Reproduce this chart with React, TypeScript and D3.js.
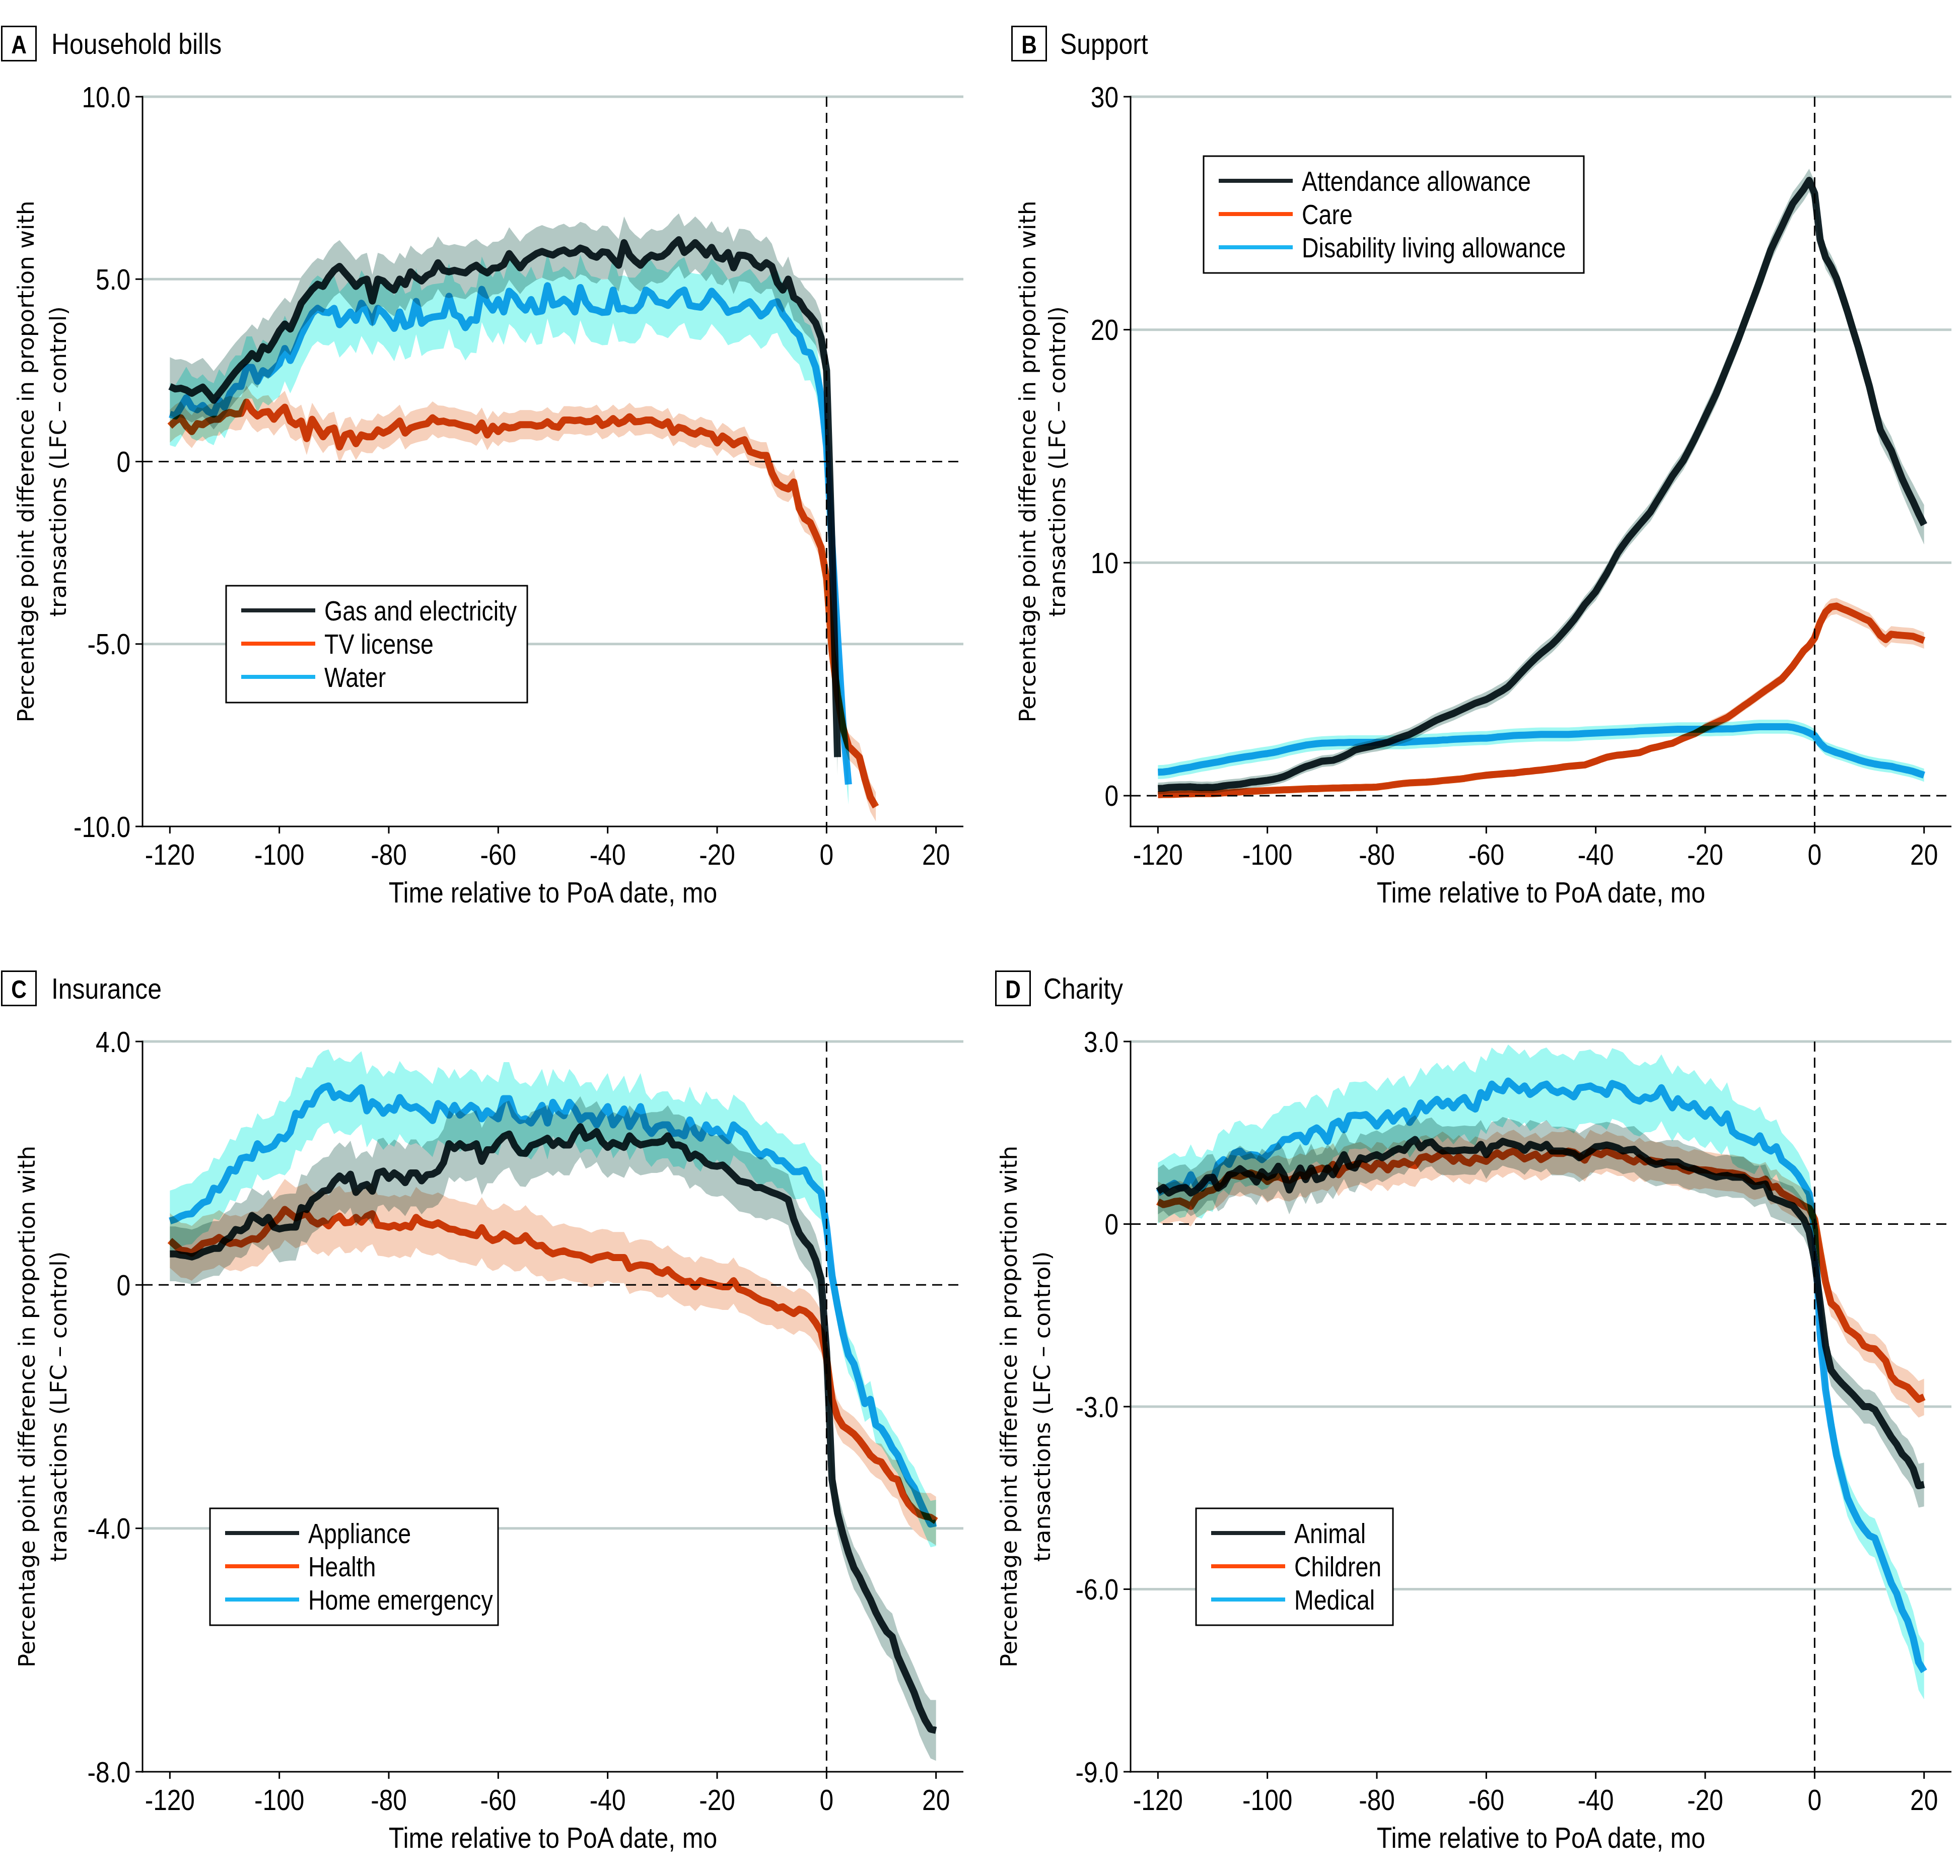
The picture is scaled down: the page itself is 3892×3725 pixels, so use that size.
import React from "react";
import * as d3 from "d3";

// ---------------- DATA ----------------
const monthStart = -120;
const xTicks = [-120, -100, -80, -60, -40, -20, 0, 20];

// Panel A: Household bills
const householdYTicks = [10, 5, 0, -5, -10];
const householdYLabels = ["10.0", "5.0", "0", "-5.0", "-10.0"];
const householdGrid = [10, 5, -5];
const gasElectricity = [
  2.06, 1.99, 2.01, 1.96, 1.87, 1.96, 2.04, 1.87, 1.68, 1.87,
  2.06, 2.27, 2.46, 2.63, 2.77, 2.96, 2.82, 3.15, 3.06, 3.3,
  3.58, 3.77, 3.63, 3.96, 4.34, 4.53, 4.72, 4.86, 4.8, 5.05,
  5.24, 5.35, 5.17, 5.0, 4.8, 4.95, 5.0, 4.4, 5.0, 4.95,
  4.8, 4.7, 5.0, 4.85, 5.2, 5.05, 4.95, 5.1, 5.17, 5.45,
  5.24, 5.2, 5.24, 5.2, 5.17, 5.3, 5.38, 5.25, 5.17, 5.3,
  5.31, 5.4, 5.7, 5.5, 5.31, 5.5, 5.6, 5.7, 5.76, 5.7,
  5.66, 5.75, 5.8, 5.7, 5.73, 5.85, 5.8, 5.65, 5.6, 5.75,
  5.73, 5.55, 5.38, 6.0, 5.66, 5.5, 5.38, 5.55, 5.66, 5.6,
  5.63, 5.75, 5.94, 6.08, 5.73, 5.85, 6.0, 5.85, 5.66, 5.87,
  5.6, 5.55, 5.73, 5.31, 5.66, 5.65, 5.6, 5.4, 5.31, 5.45,
  5.35, 4.9, 4.7, 5.0, 4.5, 4.4, 4.15, 4.0, 3.8, 3.4,
  2.5, -2.4, -8.1,
];
const gasElectricityCi = [
  0.8, 0.8, 0.8, 0.8, 0.8, 0.8, 0.8, 0.8, 0.8, 0.8,
  0.8, 0.8, 0.8, 0.8, 0.8, 0.8, 0.8, 0.8, 0.8, 0.8,
  0.72, 0.72, 0.72, 0.72, 0.72, 0.72, 0.72, 0.72, 0.72, 0.72,
  0.72, 0.72, 0.72, 0.72, 0.72, 0.72, 0.72, 0.72, 0.72, 0.72,
  0.72, 0.72, 0.72, 0.72, 0.72, 0.72, 0.72, 0.72, 0.72, 0.72,
  0.72, 0.72, 0.72, 0.72, 0.72, 0.72, 0.72, 0.72, 0.72, 0.72,
  0.72, 0.72, 0.72, 0.72, 0.72, 0.72, 0.72, 0.72, 0.72, 0.72,
  0.72, 0.72, 0.72, 0.72, 0.72, 0.72, 0.72, 0.72, 0.72, 0.72,
  0.72, 0.72, 0.72, 0.72, 0.72, 0.72, 0.72, 0.72, 0.72, 0.72,
  0.72, 0.72, 0.72, 0.72, 0.72, 0.72, 0.72, 0.72, 0.72, 0.72,
  0.72, 0.72, 0.72, 0.72, 0.72, 0.72, 0.72, 0.72, 0.72, 0.72,
  0.62, 0.62, 0.62, 0.62, 0.62, 0.62, 0.62, 0.62, 0.62, 0.62,
  0.5, 0.5, 0.5,
];
const tvLicense = [
  0.97, 1.11, 1.2, 0.97, 0.82, 1.04, 1.01, 1.11, 1.16, 1.16,
  1.3, 1.35, 1.3, 1.32, 1.63, 1.39, 1.25, 1.35, 1.37, 1.16,
  1.35, 1.49, 1.11, 1.01, 1.11, 0.63, 1.16, 0.92, 0.68, 0.87,
  0.92, 0.4, 0.73, 0.78, 0.49, 0.73, 0.68, 0.68, 0.87, 0.78,
  0.85, 0.97, 1.11, 0.78, 0.92, 0.97, 1.01, 1.04, 1.2, 1.09,
  1.11, 1.06, 1.06, 1.01, 0.97, 0.94, 0.85, 1.06, 0.73, 0.97,
  0.82, 0.97, 0.92, 0.94, 1.01, 1.01, 1.01, 0.97, 0.99, 1.09,
  0.97, 0.94, 1.14, 1.14, 1.12, 1.14, 1.09, 1.1, 1.18, 0.99,
  1.05, 1.18, 1.04, 1.1, 1.23, 1.09, 1.1, 1.14, 1.14, 1.05,
  0.99, 1.09, 0.8, 0.94, 0.9, 0.8, 0.75, 0.85, 0.78, 0.75,
  0.51, 0.7, 0.6, 0.46, 0.55, 0.6, 0.27, 0.22, 0.17, 0.17,
  -0.31, -0.6, -0.7, -0.75, -0.56, -1.28, -1.57, -1.67, -2.0, -2.35,
  -3.2, -5.2, -6.4, -7.3, -7.8, -7.95, -8.1, -8.7, -9.2, -9.46,
];
const tvLicenseCi = [
  0.45, 0.45, 0.45, 0.45, 0.45, 0.45, 0.45, 0.45, 0.45, 0.45,
  0.45, 0.45, 0.45, 0.45, 0.45, 0.45, 0.45, 0.45, 0.45, 0.45,
  0.45, 0.45, 0.45, 0.45, 0.45, 0.45, 0.45, 0.45, 0.45, 0.45,
  0.45, 0.45, 0.45, 0.45, 0.45, 0.45, 0.45, 0.45, 0.45, 0.45,
  0.45, 0.45, 0.45, 0.45, 0.45, 0.45, 0.45, 0.45, 0.45, 0.45,
  0.42, 0.42, 0.42, 0.42, 0.42, 0.42, 0.42, 0.42, 0.42, 0.42,
  0.4, 0.4, 0.4, 0.4, 0.4, 0.4, 0.4, 0.4, 0.4, 0.4,
  0.38, 0.38, 0.38, 0.38, 0.38, 0.38, 0.38, 0.38, 0.38, 0.38,
  0.38, 0.38, 0.38, 0.38, 0.38, 0.38, 0.38, 0.38, 0.38, 0.38,
  0.38, 0.38, 0.38, 0.38, 0.38, 0.38, 0.38, 0.38, 0.38, 0.38,
  0.36, 0.36, 0.36, 0.36, 0.36, 0.36, 0.36, 0.36, 0.36, 0.36,
  0.36, 0.36, 0.36, 0.36, 0.36, 0.36, 0.36, 0.36, 0.36, 0.36,
  0.36, 0.36, 0.36, 0.36, 0.36, 0.36, 0.38, 0.4, 0.4, 0.4,
];
const water = [
  1.3, 1.25, 1.49, 1.75, 1.49, 1.42, 1.54, 1.37, 1.3, 1.68,
  1.49, 1.87, 2.06, 2.06, 2.58, 2.58, 2.2, 2.49, 2.39, 2.53,
  2.68, 3.1, 2.77, 3.1, 3.48, 3.77, 4.06, 4.2, 4.1, 4.08,
  4.2, 3.75, 3.91, 4.1, 3.87, 4.34, 4.1, 3.82, 4.2, 4.08,
  3.89, 3.65, 4.1, 3.7, 3.77, 4.39, 3.79, 3.91, 3.96, 3.98,
  4.0, 4.53, 4.03, 3.96, 3.67, 3.89, 3.87, 4.72, 4.36, 4.15,
  4.44, 4.1, 4.67, 4.53, 4.29, 4.15, 4.44, 4.1, 4.13, 4.82,
  4.29, 4.33, 4.45, 4.33, 4.1, 4.77, 4.37, 4.18, 4.15, 4.09,
  4.1, 4.7, 4.18, 4.2, 4.14, 4.14, 4.3, 4.7, 4.6, 4.38,
  4.35, 4.28, 4.45, 4.62, 4.7, 4.28, 4.25, 4.23, 4.4, 4.67,
  4.5, 4.33, 4.09, 4.15, 4.18, 4.3, 4.38, 4.2, 3.99, 4.1,
  4.33, 4.38, 4.04, 3.85, 3.6, 3.46, 3.02, 2.98, 2.59, 1.8,
  0.4, -2.3, -4.77, -7.2, -8.85,
];
const waterCi = [
  0.85, 0.85, 0.85, 0.85, 0.85, 0.85, 0.85, 0.85, 0.85, 0.85,
  0.85, 0.85, 0.85, 0.85, 0.85, 0.85, 0.85, 0.85, 0.85, 0.85,
  0.9, 0.9, 0.9, 0.9, 0.9, 0.9, 0.9, 0.9, 0.9, 0.9,
  0.9, 0.9, 0.9, 0.9, 0.9, 0.9, 0.9, 0.9, 0.9, 0.9,
  0.9, 0.9, 0.9, 0.9, 0.9, 0.9, 0.9, 0.9, 0.9, 0.9,
  0.9, 0.9, 0.9, 0.9, 0.9, 0.9, 0.9, 0.9, 0.9, 0.9,
  0.9, 0.9, 0.9, 0.9, 0.9, 0.9, 0.9, 0.9, 0.9, 0.9,
  0.9, 0.9, 0.9, 0.9, 0.9, 0.9, 0.9, 0.9, 0.9, 0.9,
  0.9, 0.9, 0.9, 0.9, 0.9, 0.9, 0.9, 0.9, 0.9, 0.9,
  0.9, 0.9, 0.9, 0.9, 0.9, 0.9, 0.9, 0.9, 0.9, 0.9,
  0.9, 0.9, 0.9, 0.9, 0.9, 0.9, 0.9, 0.9, 0.9, 0.9,
  0.85, 0.85, 0.85, 0.85, 0.8, 0.8, 0.8, 0.75, 0.7, 0.65,
  0.55, 0.55, 0.55, 0.55, 0.55,
];

// Panel B: Support
const supportYTicks = [30, 20, 10, 0];
const supportYLabels = ["30", "20", "10", "0"];
const supportGrid = [30, 20, 10];
const attendanceAllowance = [
  0.31, 0.32, 0.35, 0.36, 0.37, 0.37, 0.38, 0.36, 0.35, 0.36,
  0.35, 0.38, 0.42, 0.45, 0.47, 0.49, 0.53, 0.58, 0.6, 0.63,
  0.66, 0.7, 0.75, 0.82, 0.92, 1.04, 1.15, 1.25, 1.32, 1.4,
  1.48, 1.5, 1.52, 1.6, 1.7, 1.82, 1.96, 2.02, 2.07, 2.12,
  2.18, 2.23, 2.29, 2.38, 2.47, 2.55, 2.63, 2.75, 2.87, 3.0,
  3.13, 3.25, 3.35, 3.44, 3.53, 3.64, 3.75, 3.86, 3.97, 4.05,
  4.13, 4.25, 4.39, 4.52, 4.68, 4.92, 5.18, 5.43, 5.67, 5.9,
  6.11, 6.3, 6.49, 6.73, 6.99, 7.26, 7.54, 7.87, 8.21, 8.48,
  8.76, 9.15, 9.53, 9.97, 10.41, 10.75, 11.07, 11.35, 11.63, 11.9,
  12.18, 12.57, 12.95, 13.33, 13.72, 14.05, 14.38, 14.82, 15.27, 15.76,
  16.26, 16.75, 17.25, 17.82, 18.4, 18.98, 19.57, 20.2, 20.83, 21.46,
  22.1, 22.77, 23.43, 23.93, 24.42, 24.92, 25.41, 25.72, 26.03, 26.41,
  25.85, 23.87, 23.1, 22.7, 22.2, 21.5, 20.78, 20.0, 19.24, 18.4,
  17.58, 16.6, 15.7, 15.25, 14.82, 14.2, 13.6, 13.1, 12.62, 12.1,
  11.63,
];
const attendanceAllowanceCi = [
  0.25, 0.25, 0.25, 0.25, 0.25, 0.25, 0.25, 0.25, 0.25, 0.25,
  0.25, 0.25, 0.25, 0.25, 0.25, 0.25, 0.25, 0.25, 0.25, 0.25,
  0.25, 0.25, 0.25, 0.25, 0.25, 0.25, 0.25, 0.25, 0.25, 0.25,
  0.25, 0.25, 0.25, 0.25, 0.25, 0.25, 0.25, 0.25, 0.25, 0.25,
  0.28, 0.28, 0.28, 0.28, 0.28, 0.28, 0.28, 0.28, 0.28, 0.28,
  0.3, 0.3, 0.3, 0.3, 0.3, 0.3, 0.3, 0.3, 0.3, 0.3,
  0.33, 0.33, 0.33, 0.33, 0.33, 0.33, 0.33, 0.33, 0.33, 0.33,
  0.35, 0.35, 0.35, 0.35, 0.35, 0.35, 0.35, 0.35, 0.35, 0.35,
  0.38, 0.38, 0.38, 0.38, 0.38, 0.38, 0.38, 0.38, 0.38, 0.38,
  0.4, 0.4, 0.4, 0.4, 0.4, 0.4, 0.4, 0.4, 0.4, 0.4,
  0.45, 0.45, 0.45, 0.45, 0.45, 0.45, 0.45, 0.45, 0.45, 0.45,
  0.5, 0.5, 0.5, 0.5, 0.5, 0.5, 0.5, 0.5, 0.5, 0.5,
  0.5, 0.5, 0.5, 0.5, 0.5, 0.5, 0.5, 0.5, 0.5, 0.55,
  0.55, 0.55, 0.6, 0.6, 0.6, 0.6, 0.65, 0.7, 0.75, 0.8,
  0.85,
];
const care = [
  0.04, 0.05, 0.05, 0.06, 0.07, 0.08, 0.08, 0.09, 0.09, 0.09,
  0.09, 0.1, 0.12, 0.13, 0.15, 0.16, 0.18, 0.19, 0.2, 0.21,
  0.22, 0.23, 0.24, 0.25, 0.26, 0.27, 0.28, 0.29, 0.3, 0.3,
  0.31, 0.32, 0.33, 0.33, 0.34, 0.34, 0.35, 0.35, 0.36, 0.36,
  0.37, 0.4, 0.43, 0.47, 0.5, 0.53, 0.55, 0.56, 0.57, 0.58,
  0.6, 0.62, 0.65, 0.67, 0.69, 0.71, 0.74, 0.78, 0.82, 0.85,
  0.88, 0.9, 0.92, 0.94, 0.96, 0.97, 1.0, 1.03, 1.05, 1.08,
  1.1, 1.13, 1.16, 1.19, 1.23, 1.26, 1.28, 1.3, 1.32, 1.4,
  1.48, 1.57, 1.65, 1.7, 1.74, 1.76, 1.79, 1.82, 1.85, 1.94,
  2.03, 2.08, 2.14, 2.2, 2.25, 2.36, 2.47, 2.56, 2.65, 2.78,
  2.91, 3.02, 3.13, 3.24, 3.35, 3.51, 3.68, 3.85, 4.01, 4.18,
  4.35, 4.52, 4.68, 4.85, 5.01, 5.28, 5.56, 5.89, 6.22, 6.44,
  6.77, 7.43, 7.88, 8.1, 8.14, 8.03, 7.94, 7.83, 7.72, 7.6,
  7.5, 7.21, 6.88, 6.7, 6.93, 6.9, 6.88, 6.86, 6.84, 6.75,
  6.66,
];
const careCi = [
  0.12, 0.12, 0.12, 0.12, 0.12, 0.12, 0.12, 0.12, 0.12, 0.12,
  0.12, 0.12, 0.12, 0.12, 0.12, 0.12, 0.12, 0.12, 0.12, 0.12,
  0.12, 0.12, 0.12, 0.12, 0.12, 0.12, 0.12, 0.12, 0.12, 0.12,
  0.12, 0.12, 0.12, 0.12, 0.12, 0.12, 0.12, 0.12, 0.12, 0.12,
  0.12, 0.12, 0.12, 0.12, 0.12, 0.12, 0.12, 0.12, 0.12, 0.12,
  0.12, 0.12, 0.12, 0.12, 0.12, 0.12, 0.12, 0.12, 0.12, 0.12,
  0.15, 0.15, 0.15, 0.15, 0.15, 0.15, 0.15, 0.15, 0.15, 0.15,
  0.15, 0.15, 0.15, 0.15, 0.15, 0.15, 0.15, 0.15, 0.15, 0.15,
  0.15, 0.15, 0.15, 0.15, 0.15, 0.15, 0.15, 0.15, 0.15, 0.15,
  0.15, 0.15, 0.15, 0.15, 0.15, 0.15, 0.15, 0.15, 0.15, 0.15,
  0.22, 0.22, 0.22, 0.22, 0.22, 0.22, 0.22, 0.22, 0.22, 0.22,
  0.22, 0.22, 0.22, 0.22, 0.22, 0.22, 0.22, 0.22, 0.22, 0.22,
  0.35, 0.35, 0.35, 0.35, 0.35, 0.35, 0.35, 0.35, 0.35, 0.35,
  0.35, 0.35, 0.35, 0.35, 0.35, 0.35, 0.35, 0.35, 0.35, 0.35,
  0.35,
];
const disabilityLiving = [
  1.01, 1.02, 1.05, 1.1, 1.15, 1.19, 1.23, 1.28, 1.33, 1.37,
  1.41, 1.45, 1.5, 1.55, 1.59, 1.63, 1.67, 1.7, 1.74, 1.78,
  1.81, 1.85, 1.9, 1.96, 2.02, 2.07, 2.12, 2.17, 2.2, 2.23,
  2.25, 2.26, 2.27, 2.28, 2.28, 2.29, 2.29, 2.29, 2.29, 2.29,
  2.29, 2.29, 2.29, 2.29, 2.29, 2.29, 2.31, 2.32, 2.34, 2.35,
  2.36, 2.37, 2.39, 2.4, 2.42, 2.43, 2.44, 2.45, 2.46, 2.47,
  2.47, 2.49, 2.52, 2.54, 2.56, 2.58, 2.59, 2.6, 2.61, 2.62,
  2.63, 2.63, 2.63, 2.63, 2.63, 2.63, 2.64, 2.65, 2.67, 2.68,
  2.69, 2.7, 2.71, 2.72, 2.73, 2.74, 2.75, 2.76, 2.78, 2.79,
  2.8, 2.81, 2.82, 2.83, 2.84, 2.85, 2.85, 2.85, 2.85, 2.85,
  2.85, 2.85, 2.86, 2.86, 2.87, 2.87, 2.89, 2.91, 2.93, 2.95,
  2.96, 2.96, 2.96, 2.96, 2.96, 2.96, 2.93, 2.87, 2.8, 2.7,
  2.58, 2.25, 2.03, 1.94, 1.85, 1.78, 1.7, 1.62, 1.54, 1.47,
  1.41, 1.36, 1.32, 1.29, 1.26, 1.2, 1.15, 1.1, 1.04, 0.96,
  0.88,
];
const disabilityLivingCi = [
  0.3, 0.3, 0.3, 0.3, 0.3, 0.3, 0.3, 0.3, 0.3, 0.3,
  0.3, 0.3, 0.3, 0.3, 0.3, 0.3, 0.3, 0.3, 0.3, 0.3,
  0.3, 0.3, 0.3, 0.3, 0.3, 0.3, 0.3, 0.3, 0.3, 0.3,
  0.3, 0.3, 0.3, 0.3, 0.3, 0.3, 0.3, 0.3, 0.3, 0.3,
  0.3, 0.3, 0.3, 0.3, 0.3, 0.3, 0.3, 0.3, 0.3, 0.3,
  0.3, 0.3, 0.3, 0.3, 0.3, 0.3, 0.3, 0.3, 0.3, 0.3,
  0.3, 0.3, 0.3, 0.3, 0.3, 0.3, 0.3, 0.3, 0.3, 0.3,
  0.3, 0.3, 0.3, 0.3, 0.3, 0.3, 0.3, 0.3, 0.3, 0.3,
  0.3, 0.3, 0.3, 0.3, 0.3, 0.3, 0.3, 0.3, 0.3, 0.3,
  0.3, 0.3, 0.3, 0.3, 0.3, 0.3, 0.3, 0.3, 0.3, 0.3,
  0.3, 0.3, 0.3, 0.3, 0.3, 0.3, 0.3, 0.3, 0.3, 0.3,
  0.3, 0.3, 0.3, 0.3, 0.3, 0.3, 0.3, 0.3, 0.3, 0.3,
  0.28, 0.28, 0.28, 0.28, 0.28, 0.28, 0.28, 0.28, 0.28, 0.28,
  0.28, 0.28, 0.28, 0.28, 0.28, 0.28, 0.28, 0.28, 0.28, 0.28,
  0.28,
];

// Panel C: Insurance
const insuranceYTicks = [4, 0, -4, -8];
const insuranceYLabels = ["4.0", "0", "-4.0", "-8.0"];
const insuranceGrid = [4, -4];
const appliance = [
  0.51, 0.51, 0.49, 0.48, 0.46, 0.49, 0.54, 0.57, 0.6, 0.6,
  0.73, 0.78, 0.91, 0.89, 0.95, 1.14, 1.08, 1.02, 1.11, 0.95,
  0.92, 0.94, 0.95, 0.95, 1.27, 1.24, 1.4, 1.46, 1.54, 1.56,
  1.7, 1.79, 1.71, 1.82, 1.52, 1.62, 1.65, 1.54, 1.84, 1.87,
  1.75, 1.84, 1.78, 1.68, 1.84, 1.84, 1.71, 1.81, 1.82, 1.87,
  2.01, 2.32, 2.24, 2.32, 2.25, 2.27, 2.32, 2.03, 2.22, 2.22,
  2.35, 2.44, 2.48, 2.29, 2.17, 2.16, 2.29, 2.32, 2.36, 2.41,
  2.29, 2.37, 2.3, 2.3, 2.48, 2.6, 2.41, 2.45, 2.52, 2.35,
  2.26, 2.34, 2.3, 2.26, 2.45, 2.35, 2.3, 2.32, 2.34, 2.34,
  2.36, 2.45, 2.3, 2.3, 2.26, 2.08, 2.15, 2.1, 2.0, 1.96,
  1.95, 1.97, 1.89, 1.8, 1.71, 1.69, 1.67, 1.6, 1.6, 1.56,
  1.52, 1.49, 1.45, 1.4, 1.08, 0.85, 0.72, 0.62, 0.41, 0.1,
  -1.1, -3.2, -3.75, -4.1, -4.4, -4.65, -4.8, -5.0, -5.17, -5.38,
  -5.55, -5.7, -5.78, -6.1, -6.3, -6.5, -6.7, -6.95, -7.15, -7.3,
  -7.32,
];
const applianceCi = [
  0.45, 0.45, 0.45, 0.45, 0.45, 0.45, 0.45, 0.45, 0.45, 0.45,
  0.45, 0.45, 0.45, 0.45, 0.45, 0.45, 0.45, 0.45, 0.45, 0.45,
  0.55, 0.55, 0.55, 0.55, 0.55, 0.55, 0.55, 0.55, 0.55, 0.55,
  0.55, 0.55, 0.55, 0.55, 0.55, 0.55, 0.55, 0.55, 0.55, 0.55,
  0.55, 0.55, 0.55, 0.55, 0.55, 0.55, 0.55, 0.55, 0.55, 0.55,
  0.55, 0.55, 0.55, 0.55, 0.55, 0.55, 0.55, 0.55, 0.55, 0.55,
  0.55, 0.55, 0.55, 0.55, 0.55, 0.55, 0.55, 0.55, 0.55, 0.55,
  0.5, 0.5, 0.5, 0.5, 0.5, 0.5, 0.5, 0.5, 0.5, 0.5,
  0.5, 0.5, 0.5, 0.5, 0.5, 0.5, 0.5, 0.5, 0.5, 0.5,
  0.5, 0.5, 0.5, 0.5, 0.5, 0.5, 0.5, 0.5, 0.5, 0.5,
  0.5, 0.5, 0.5, 0.5, 0.5, 0.5, 0.5, 0.5, 0.5, 0.5,
  0.42, 0.42, 0.42, 0.42, 0.42, 0.42, 0.42, 0.42, 0.42, 0.42,
  0.35, 0.35, 0.35, 0.35, 0.35, 0.35, 0.35, 0.35, 0.35, 0.35,
  0.38, 0.38, 0.38, 0.4, 0.4, 0.42, 0.42, 0.45, 0.45, 0.48,
  0.5,
];
const health = [
  0.73, 0.65, 0.57, 0.56, 0.52, 0.6, 0.68, 0.7, 0.72, 0.78,
  0.72, 0.68, 0.7, 0.67, 0.72, 0.76, 0.75, 0.83, 0.95, 1.02,
  1.11, 1.24, 1.17, 1.1, 1.14, 1.17, 1.05, 1.0, 1.05, 0.97,
  1.08, 1.13, 1.02, 1.03, 1.11, 1.03, 1.13, 1.17, 0.98, 0.97,
  0.95, 0.98, 0.94, 0.98, 0.95, 1.11, 1.03, 1.0, 0.98, 1.02,
  0.97, 0.92, 0.91, 0.87, 0.86, 0.83, 0.81, 0.94, 0.79, 0.73,
  0.76, 0.84, 0.79, 0.72, 0.73, 0.81, 0.7, 0.64, 0.65, 0.56,
  0.51, 0.54, 0.56, 0.52, 0.5, 0.49, 0.45, 0.41, 0.45, 0.47,
  0.49, 0.45, 0.45, 0.45, 0.27, 0.31, 0.33, 0.32, 0.3, 0.22,
  0.19, 0.25, 0.16, 0.1, 0.05, 0.06, -0.03, 0.07, 0.04, 0.02,
  -0.01, -0.03, -0.03, 0.07, -0.07, -0.1, -0.14, -0.2, -0.25, -0.28,
  -0.31, -0.38, -0.36, -0.42, -0.47, -0.4, -0.43, -0.5, -0.62, -0.77,
  -1.2, -1.88, -2.17, -2.32, -2.38, -2.45, -2.55, -2.67, -2.8, -2.88,
  -2.91, -3.05, -3.17, -3.2, -3.45, -3.6, -3.7, -3.77, -3.8, -3.82,
  -3.88,
];
const healthCi = [
  0.45, 0.45, 0.45, 0.45, 0.45, 0.45, 0.45, 0.45, 0.45, 0.45,
  0.45, 0.45, 0.45, 0.45, 0.45, 0.45, 0.45, 0.45, 0.45, 0.45,
  0.5, 0.5, 0.5, 0.5, 0.5, 0.5, 0.5, 0.5, 0.5, 0.5,
  0.5, 0.5, 0.5, 0.5, 0.5, 0.5, 0.5, 0.5, 0.5, 0.5,
  0.5, 0.5, 0.5, 0.5, 0.5, 0.5, 0.5, 0.5, 0.5, 0.5,
  0.5, 0.5, 0.5, 0.5, 0.5, 0.5, 0.5, 0.5, 0.5, 0.5,
  0.5, 0.5, 0.5, 0.5, 0.5, 0.5, 0.5, 0.5, 0.5, 0.5,
  0.45, 0.45, 0.45, 0.45, 0.45, 0.45, 0.45, 0.45, 0.45, 0.45,
  0.42, 0.42, 0.42, 0.42, 0.42, 0.42, 0.42, 0.42, 0.42, 0.42,
  0.4, 0.4, 0.4, 0.4, 0.4, 0.4, 0.4, 0.4, 0.4, 0.4,
  0.38, 0.38, 0.38, 0.38, 0.38, 0.38, 0.38, 0.38, 0.38, 0.38,
  0.35, 0.35, 0.35, 0.35, 0.35, 0.35, 0.35, 0.35, 0.35, 0.35,
  0.28, 0.28, 0.28, 0.28, 0.28, 0.28, 0.28, 0.28, 0.28, 0.28,
  0.3, 0.3, 0.3, 0.32, 0.32, 0.34, 0.34, 0.36, 0.38, 0.4,
  0.4,
];
const homeEmergency = [
  1.05, 1.08, 1.13, 1.16, 1.17, 1.27, 1.35, 1.38, 1.59, 1.56,
  1.71, 1.9, 1.87, 2.08, 2.1, 2.08, 2.32, 2.22, 2.24, 2.29,
  2.43, 2.4, 2.51, 2.82, 2.79, 2.98, 2.97, 3.16, 3.24, 3.27,
  3.08, 3.14, 3.08, 3.06, 3.16, 3.24, 2.86, 3.01, 2.95, 2.82,
  2.92, 2.87, 3.08, 2.95, 2.9, 2.93, 2.87, 2.79, 2.7, 2.98,
  2.92, 2.79, 2.95, 2.79, 2.86, 2.95, 2.89, 2.73, 2.86, 2.79,
  2.73, 3.06, 3.06, 2.79, 2.7, 2.73, 2.66, 2.79, 2.95, 2.66,
  3.0, 2.85, 2.78, 3.0, 2.89, 2.71, 2.78, 2.78, 2.63, 2.8,
  2.93, 2.63, 2.75, 2.89, 2.6, 2.75, 2.93, 2.6, 2.49, 2.6,
  2.63, 2.63, 2.49, 2.5, 2.45, 2.71, 2.5, 2.41, 2.63, 2.5,
  2.56, 2.45, 2.37, 2.63, 2.55, 2.49, 2.34, 2.2, 2.12, 2.19,
  2.15, 2.04, 2.04, 1.95, 1.86, 1.86, 1.89, 1.7, 1.6, 1.52,
  0.95, 0.15, -0.35, -0.8, -1.15, -1.3, -1.6, -1.95, -1.88, -2.3,
  -2.36, -2.5, -2.68, -2.8, -3.0, -3.2, -3.33, -3.55, -3.75, -3.93,
  -3.91,
];
const homeEmergencyCi = [
  0.5, 0.5, 0.5, 0.5, 0.5, 0.5, 0.5, 0.5, 0.5, 0.5,
  0.5, 0.5, 0.5, 0.5, 0.5, 0.5, 0.5, 0.5, 0.5, 0.5,
  0.6, 0.6, 0.6, 0.6, 0.6, 0.6, 0.6, 0.6, 0.6, 0.6,
  0.6, 0.6, 0.6, 0.6, 0.6, 0.6, 0.6, 0.6, 0.6, 0.6,
  0.6, 0.6, 0.6, 0.6, 0.6, 0.6, 0.6, 0.6, 0.6, 0.6,
  0.6, 0.6, 0.6, 0.6, 0.6, 0.6, 0.6, 0.6, 0.6, 0.6,
  0.6, 0.6, 0.6, 0.6, 0.6, 0.6, 0.6, 0.6, 0.6, 0.6,
  0.55, 0.55, 0.55, 0.55, 0.55, 0.55, 0.55, 0.55, 0.55, 0.55,
  0.55, 0.55, 0.55, 0.55, 0.55, 0.55, 0.55, 0.55, 0.55, 0.55,
  0.55, 0.55, 0.55, 0.55, 0.55, 0.55, 0.55, 0.55, 0.55, 0.55,
  0.5, 0.5, 0.5, 0.5, 0.5, 0.5, 0.5, 0.5, 0.5, 0.5,
  0.45, 0.45, 0.45, 0.45, 0.45, 0.45, 0.45, 0.45, 0.45, 0.45,
  0.3, 0.3, 0.3, 0.3, 0.3, 0.3, 0.3, 0.3, 0.3, 0.3,
  0.3, 0.3, 0.3, 0.3, 0.32, 0.32, 0.34, 0.34, 0.36, 0.38,
  0.38,
];

// Panel D: Charity
const charityYTicks = [3, 0, -3, -6, -9];
const charityYLabels = ["3.0", "0", "-3.0", "-6.0", "-9.0"];
const charityGrid = [3, -3, -6];
const animal = [
  0.54, 0.6, 0.51, 0.56, 0.59, 0.6, 0.51, 0.56, 0.65, 0.76,
  0.77, 0.59, 0.65, 0.81, 0.84, 0.91, 0.84, 0.81, 0.69, 0.86,
  0.77, 0.81, 0.95, 0.81, 0.56, 0.76, 0.92, 0.73, 0.92, 0.73,
  0.76, 0.92, 0.81, 0.98, 1.14, 0.95, 0.92, 1.09, 1.06, 1.11,
  1.14, 1.09, 1.14, 1.2, 1.24, 1.21, 1.33, 1.39, 1.25, 1.33,
  1.35, 1.25, 1.2, 1.21, 1.2, 1.21, 1.22, 1.21, 1.21, 1.31,
  1.14, 1.28, 1.29, 1.36, 1.33, 1.31, 1.28, 1.21, 1.31, 1.28,
  1.25, 1.31, 1.2, 1.2, 1.2, 1.18, 1.16, 1.09, 1.15, 1.2,
  1.27, 1.28, 1.3, 1.28, 1.25, 1.2, 1.22, 1.23, 1.15, 1.09,
  1.02, 0.98, 1.0, 1.02, 1.02, 1.02, 0.96, 0.93, 0.91, 0.87,
  0.84, 0.8, 0.77, 0.79, 0.8, 0.77, 0.77, 0.77, 0.7, 0.62,
  0.64, 0.66, 0.44, 0.4, 0.37, 0.33, 0.3, 0.19, 0.08, -0.13,
  -0.6, -1.3, -2.0, -2.4, -2.52, -2.62, -2.71, -2.8, -2.9, -3.0,
  -3.0, -3.05, -3.2, -3.35, -3.5, -3.62, -3.78, -3.87, -4.02, -4.3,
  -4.28,
];
const animalCi = [
  0.38, 0.38, 0.38, 0.38, 0.38, 0.38, 0.38, 0.38, 0.38, 0.38,
  0.38, 0.38, 0.38, 0.38, 0.38, 0.38, 0.38, 0.38, 0.38, 0.38,
  0.4, 0.4, 0.4, 0.4, 0.4, 0.4, 0.4, 0.4, 0.4, 0.4,
  0.4, 0.4, 0.4, 0.4, 0.4, 0.4, 0.4, 0.4, 0.4, 0.4,
  0.4, 0.4, 0.4, 0.4, 0.4, 0.4, 0.4, 0.4, 0.4, 0.4,
  0.4, 0.4, 0.4, 0.4, 0.4, 0.4, 0.4, 0.4, 0.4, 0.4,
  0.4, 0.4, 0.4, 0.4, 0.4, 0.4, 0.4, 0.4, 0.4, 0.4,
  0.4, 0.4, 0.4, 0.4, 0.4, 0.4, 0.4, 0.4, 0.4, 0.4,
  0.38, 0.38, 0.38, 0.38, 0.38, 0.38, 0.38, 0.38, 0.38, 0.38,
  0.36, 0.36, 0.36, 0.36, 0.36, 0.36, 0.36, 0.36, 0.36, 0.36,
  0.34, 0.34, 0.34, 0.34, 0.34, 0.34, 0.34, 0.34, 0.34, 0.34,
  0.32, 0.32, 0.32, 0.32, 0.32, 0.32, 0.32, 0.32, 0.3, 0.3,
  0.26, 0.26, 0.26, 0.26, 0.26, 0.26, 0.26, 0.26, 0.26, 0.28,
  0.28, 0.28, 0.3, 0.3, 0.3, 0.32, 0.32, 0.34, 0.34, 0.36,
  0.36,
];
const children = [
  0.37, 0.32, 0.34, 0.37, 0.38, 0.34, 0.29, 0.43, 0.48, 0.54,
  0.56, 0.62, 0.7, 0.81, 0.8, 0.78, 0.81, 0.84, 0.81, 0.78,
  0.7, 0.76, 0.78, 0.74, 0.72, 0.76, 0.81, 0.78, 0.87, 0.89,
  0.92, 0.89, 0.98, 0.81, 0.92, 0.95, 0.98, 1.0, 0.95, 0.89,
  1.0, 0.98, 0.89, 1.0, 0.98, 1.03, 0.98, 0.96, 1.09, 1.11,
  1.06, 1.11, 1.17, 1.11, 1.03, 1.11, 1.03, 1.0, 1.09, 1.06,
  1.03, 1.11, 1.17, 1.11, 1.17, 1.2, 1.14, 1.07, 1.11, 1.15,
  1.06, 1.11, 1.17, 1.16, 1.16, 1.2, 1.18, 1.12, 1.05, 1.2,
  1.17, 1.14, 1.2, 1.16, 1.12, 1.12, 1.06, 1.02, 1.09, 1.02,
  1.05, 1.03, 1.02, 0.97, 0.95, 0.95, 0.9, 0.87, 0.91, 0.89,
  0.89, 0.88, 0.86, 0.85, 0.84, 0.84, 0.82, 0.8, 0.73, 0.7,
  0.7, 0.74, 0.6, 0.62, 0.51, 0.46, 0.41, 0.36, 0.3, 0.26,
  0.08, -0.45, -0.95, -1.3, -1.38, -1.55, -1.73, -1.79, -1.86, -2.0,
  -2.04, -2.05, -2.15, -2.25, -2.5, -2.6, -2.64, -2.68, -2.78, -2.88,
  -2.84,
];
const childrenCi = [
  0.33, 0.33, 0.33, 0.33, 0.33, 0.33, 0.33, 0.33, 0.33, 0.33,
  0.33, 0.33, 0.33, 0.33, 0.33, 0.33, 0.33, 0.33, 0.33, 0.33,
  0.35, 0.35, 0.35, 0.35, 0.35, 0.35, 0.35, 0.35, 0.35, 0.35,
  0.35, 0.35, 0.35, 0.35, 0.35, 0.35, 0.35, 0.35, 0.35, 0.35,
  0.35, 0.35, 0.35, 0.35, 0.35, 0.35, 0.35, 0.35, 0.35, 0.35,
  0.35, 0.35, 0.35, 0.35, 0.35, 0.35, 0.35, 0.35, 0.35, 0.35,
  0.35, 0.35, 0.35, 0.35, 0.35, 0.35, 0.35, 0.35, 0.35, 0.35,
  0.35, 0.35, 0.35, 0.35, 0.35, 0.35, 0.35, 0.35, 0.35, 0.35,
  0.33, 0.33, 0.33, 0.33, 0.33, 0.33, 0.33, 0.33, 0.33, 0.33,
  0.32, 0.32, 0.32, 0.32, 0.32, 0.32, 0.32, 0.32, 0.32, 0.32,
  0.3, 0.3, 0.3, 0.3, 0.3, 0.3, 0.3, 0.3, 0.3, 0.3,
  0.28, 0.28, 0.28, 0.28, 0.28, 0.28, 0.28, 0.28, 0.28, 0.28,
  0.22, 0.22, 0.22, 0.22, 0.22, 0.22, 0.22, 0.24, 0.24, 0.24,
  0.24, 0.24, 0.26, 0.26, 0.26, 0.28, 0.28, 0.28, 0.3, 0.3,
  0.3,
];
const medical = [
  0.51, 0.56, 0.62, 0.67, 0.6, 0.62, 0.81, 0.62, 0.59, 0.73,
  0.7, 0.98, 1.06, 0.98, 1.17, 1.2, 1.11, 1.14, 1.13, 1.06,
  1.14, 1.25, 1.28, 1.39, 1.39, 1.45, 1.46, 1.35, 1.53, 1.58,
  1.5, 1.36, 1.64, 1.69, 1.55, 1.78, 1.79, 1.78, 1.8, 1.72,
  1.61, 1.73, 1.83, 1.69, 1.8, 1.86, 1.67, 1.8, 1.99, 1.86,
  1.97, 2.05, 1.94, 2.02, 1.91, 2.02, 2.08, 1.94, 1.89, 2.16,
  2.08, 2.3, 2.22, 2.19, 2.35, 2.27, 2.19, 2.27, 2.13, 2.19,
  2.27, 2.3, 2.2, 2.16, 2.2, 2.15, 2.09, 2.24, 2.25, 2.27,
  2.22, 2.2, 2.13, 2.31, 2.28, 2.24, 2.13, 2.05, 2.02, 2.09,
  2.06, 2.1, 2.24, 2.06, 1.91, 2.06, 1.95, 1.91, 1.98, 1.85,
  1.77, 1.88, 1.75, 1.66, 1.81, 1.52, 1.45, 1.42, 1.38, 1.34,
  1.45, 1.25, 1.2, 1.27, 1.05, 0.98, 0.91, 0.8, 0.65, 0.5,
  -0.1, -1.8, -2.72, -3.3, -3.8, -4.15, -4.5, -4.7, -4.88, -5.01,
  -5.12, -5.16, -5.4, -5.65, -5.9, -6.07, -6.35, -6.52, -6.8, -7.2,
  -7.35,
];
const medicalCi = [
  0.5, 0.5, 0.5, 0.5, 0.5, 0.5, 0.5, 0.5, 0.5, 0.5,
  0.5, 0.5, 0.5, 0.5, 0.5, 0.5, 0.5, 0.5, 0.5, 0.5,
  0.55, 0.55, 0.55, 0.55, 0.55, 0.55, 0.55, 0.55, 0.55, 0.55,
  0.55, 0.55, 0.55, 0.55, 0.55, 0.55, 0.55, 0.55, 0.55, 0.55,
  0.58, 0.58, 0.58, 0.58, 0.58, 0.58, 0.58, 0.58, 0.58, 0.58,
  0.6, 0.6, 0.6, 0.6, 0.6, 0.6, 0.6, 0.6, 0.6, 0.6,
  0.6, 0.6, 0.6, 0.6, 0.6, 0.6, 0.6, 0.6, 0.6, 0.6,
  0.6, 0.6, 0.6, 0.6, 0.6, 0.6, 0.6, 0.6, 0.6, 0.6,
  0.58, 0.58, 0.58, 0.58, 0.58, 0.58, 0.58, 0.58, 0.58, 0.58,
  0.55, 0.55, 0.55, 0.55, 0.55, 0.55, 0.55, 0.55, 0.55, 0.55,
  0.52, 0.52, 0.52, 0.52, 0.52, 0.52, 0.52, 0.52, 0.52, 0.52,
  0.48, 0.48, 0.48, 0.45, 0.45, 0.42, 0.4, 0.38, 0.36, 0.34,
  0.3, 0.3, 0.3, 0.3, 0.3, 0.3, 0.3, 0.3, 0.3, 0.3,
  0.32, 0.32, 0.34, 0.34, 0.36, 0.38, 0.4, 0.42, 0.44, 0.46,
  0.46,
];

// ---------------- STYLE / LAYOUT ----------------
const NARROW = "'Liberation Sans', Arimo, Arial, sans-serif";
const WIDE = "'DejaVu Sans', Verdana, sans-serif";
const TEXT_SX = 0.83;
const TITLE_SX = 0.86;
const TICK_SX = 0.87;

const KIND = {
  black: { band: "#b3c8c4", line: "#16262c", legend: "#1b2428" },
  orange: { band: "#f6d0bb", line: "#d2460a", legend: "#ff4a0a" },
  blue: { band: "#a0f8f2", line: "#18a4f2", legend: "#1ab4f2" },
};

const X_DOMAIN = [-125, 25];
const TOP = { yTop: 192, yBot: 1641 };
const BOTTOM = { yTop: 2068, yBot: 3518 };
const LEFT = { x0: 283, x1: 1913 };
const RIGHT = { x0: 2245, x1: 3875 };

const panels = [
  {
    id: "A", title: "Household bills", ...LEFT, ...TOP,
    yDomain: [-10, 10], yTicks: householdYTicks, yLabels: householdYLabels, grid: householdGrid,
    series: [
      { name: "Gas and electricity", values: gasElectricity, ci: gasElectricityCi, kind: "black" },
      { name: "TV license", values: tvLicense, ci: tvLicenseCi, kind: "orange" },
      { name: "Water", values: water, ci: waterCi, kind: "blue" },
    ],
    legend: { x: 449, y: 1163, w: 598 },
    box: { x: 2, y: 51 }, titleX: 102, titleY: 107,
    yTitle: { l1: 51, l2: 115 },
  },
  {
    id: "B", title: "Support", ...RIGHT, ...TOP,
    yDomain: [-1.32, 30], yTicks: supportYTicks, yLabels: supportYLabels, grid: supportGrid,
    series: [
      { name: "Attendance allowance", values: attendanceAllowance, ci: attendanceAllowanceCi, kind: "black" },
      { name: "Care", values: care, ci: careCi, kind: "orange" },
      { name: "Disability living allowance", values: disabilityLiving, ci: disabilityLivingCi, kind: "blue" },
    ],
    legend: { x: 2390, y: 310, w: 755 },
    box: { x: 2008, y: 51 }, titleX: 2105, titleY: 107,
    yTitle: { l1: 2040, l2: 2099 },
  },
  {
    id: "C", title: "Insurance", ...LEFT, ...BOTTOM,
    yDomain: [-8, 4], yTicks: insuranceYTicks, yLabels: insuranceYLabels, grid: insuranceGrid,
    series: [
      { name: "Appliance", values: appliance, ci: applianceCi, kind: "black" },
      { name: "Health", values: health, ci: healthCi, kind: "orange" },
      { name: "Home emergency", values: homeEmergency, ci: homeEmergencyCi, kind: "blue" },
    ],
    legend: { x: 417, y: 2995, w: 572 },
    box: { x: 2, y: 1927 }, titleX: 102, titleY: 1983,
    yTitle: { l1: 53, l2: 116 },
  },
  {
    id: "D", title: "Charity", ...RIGHT, ...BOTTOM,
    yDomain: [-9, 3], yTicks: charityYTicks, yLabels: charityYLabels, grid: charityGrid,
    series: [
      { name: "Animal", values: animal, ci: animalCi, kind: "black" },
      { name: "Children", values: children, ci: childrenCi, kind: "orange" },
      { name: "Medical", values: medical, ci: medicalCi, kind: "blue" },
    ],
    legend: { x: 2375, y: 2995, w: 391 },
    box: { x: 1976, y: 1927 }, titleX: 2072, titleY: 1983,
    yTitle: { l1: 2003, l2: 2069 },
  },
];

function NText({ x, y, anchor = "start", size, weight = 400, dy, sx = TEXT_SX, children }: any) {
  return (
    <text
      transform={`translate(${x},${y}) scale(${sx},1)`}
      textAnchor={anchor}
      fontFamily={NARROW}
      fontSize={size}
      fontWeight={weight}
      dy={dy}
      fill="#000"
    >
      {children}
    </text>
  );
}

function Panel({ p }: { p: any }) {
  const x = d3.scaleLinear().domain(X_DOMAIN).range([p.x0, p.x1]);
  const y = d3.scaleLinear().domain(p.yDomain).range([p.yBot, p.yTop]);
  const clipId = `clip-${p.id}`;
  const cy = (p.yTop + p.yBot) / 2;

  const built = p.series.map((s: any) => {
    const pts = s.values.map((v: number, i: number) => ({
      m: monthStart + i,
      v,
      hw: s.ci[Math.min(i, s.ci.length - 1)],
    }));
    const area = d3
      .area<any>()
      .x((d) => x(d.m))
      .y0((d) => y(d.v - d.hw))
      .y1((d) => y(d.v + d.hw));
    const line = d3
      .line<any>()
      .x((d) => x(d.m))
      .y((d) => y(d.v));
    return { ...s, areaD: area(pts), lineD: line(pts) };
  });

  const legendRows = [49, 115, 181];

  return (
    <g>
      <defs>
        <clipPath id={clipId}>
          <rect x={p.x0} y={p.yTop - 20} width={p.x1 - p.x0} height={p.yBot - p.yTop + 20} />
        </clipPath>
      </defs>

      {/* panel label box + title */}
      <rect x={p.box.x + 1.5} y={p.box.y + 1.5} width={68} height={68} fill="#fff" stroke="#000" strokeWidth={3} />
      <NText x={p.box.x + 35.5} y={p.box.y + 55} anchor="middle" size={50} weight={700} sx={0.85}>
        {p.id}
      </NText>
      <NText x={p.titleX} y={p.titleY} size={58} sx={TITLE_SX}>
        {p.title}
      </NText>

      {/* gridlines */}
      {p.grid.map((g: number) => (
        <line key={g} x1={p.x0} x2={p.x1} y1={y(g)} y2={y(g)} stroke="#bfcdcb" strokeWidth={5} />
      ))}

      {/* bands and lines (multiply blending) */}
      <g clipPath={`url(#${clipId})`}>
        {built.map((s: any) => (
          <path key={s.name + "-band"} d={s.areaD} fill={(KIND as any)[s.kind].band} style={{ mixBlendMode: "multiply" }} />
        ))}
        {built.map((s: any) => (
          <path
            key={s.name + "-line"}
            d={s.lineD}
            fill="none"
            stroke={(KIND as any)[s.kind].line}
            strokeWidth={14}
            strokeLinejoin="round"
            style={{ mixBlendMode: "multiply" }}
          />
        ))}
      </g>

      {/* reference lines */}
      <line x1={p.x0} x2={p.x1} y1={y(0)} y2={y(0)} stroke="#000" strokeWidth={3} strokeDasharray="20 12" />
      <line x1={x(0)} x2={x(0)} y1={p.yTop} y2={p.yBot} stroke="#000" strokeWidth={3} strokeDasharray="20 12" />

      {/* axes */}
      <line x1={p.x0} x2={p.x0} y1={p.yTop - 1.5} y2={p.yBot + 1.5} stroke="#000" strokeWidth={3} />
      <line x1={p.x0 - 1.5} x2={p.x1} y1={p.yBot} y2={p.yBot} stroke="#000" strokeWidth={3} />
      {p.yTicks.map((t: number, i: number) => (
        <g key={"yt" + t}>
          <line x1={p.x0 - 14} x2={p.x0} y1={y(t)} y2={y(t)} stroke="#000" strokeWidth={3} />
          <NText x={p.x0 - 24} y={y(t)} dy="0.36em" anchor="end" size={57} sx={TICK_SX}>
            {p.yLabels[i]}
          </NText>
        </g>
      ))}
      {xTicks.map((t) => (
        <g key={"xt" + t}>
          <line x1={x(t)} x2={x(t)} y1={p.yBot} y2={p.yBot + 14} stroke="#000" strokeWidth={3} />
          <NText x={x(t)} y={p.yBot + 76} anchor="middle" size={57} sx={TICK_SX}>
            {String(t)}
          </NText>
        </g>
      ))}
      <NText x={(p.x0 + p.x1) / 2} y={p.yBot + 151} anchor="middle" size={58} sx={TITLE_SX}>
        Time relative to PoA date, mo
      </NText>

      {/* y axis title */}
      <text
        transform={`translate(${p.yTitle.l1},${cy}) rotate(-90)`}
        textAnchor="middle"
        dominantBaseline="central"
        fontFamily={WIDE}
        fontSize={45}
      >
        Percentage point difference in proportion with
      </text>
      <text
        transform={`translate(${p.yTitle.l2},${cy}) rotate(-90)`}
        textAnchor="middle"
        dominantBaseline="central"
        fontFamily={WIDE}
        fontSize={45}
      >
        transactions (LFC – control)
      </text>

      {/* legend */}
      <rect x={p.legend.x} y={p.legend.y} width={p.legend.w} height={232} fill="#fff" stroke="#000" strokeWidth={3} />
      {p.series.map((s: any, i: number) => (
        <g key={"lg" + s.name}>
          <line
            x1={p.legend.x + 30}
            x2={p.legend.x + 177}
            y1={p.legend.y + legendRows[i]}
            y2={p.legend.y + legendRows[i]}
            stroke={(KIND as any)[s.kind].legend}
            strokeWidth={8}
          />
          <NText x={p.legend.x + 195} y={p.legend.y + legendRows[i]} dy="0.36em" size={56}>
            {s.name}
          </NText>
        </g>
      ))}
    </g>
  );
}

export default function App() {
  return (
    <svg
      width={3892}
      height={3725}
      viewBox="0 0 3892 3725"
      style={{ position: "absolute", left: 0, top: 0, display: "block", background: "#fff" }}
    >
      <rect x={0} y={0} width={3892} height={3725} fill="#fff" />
      {panels.map((p) => (
        <Panel key={p.id} p={p} />
      ))}
    </svg>
  );
}
